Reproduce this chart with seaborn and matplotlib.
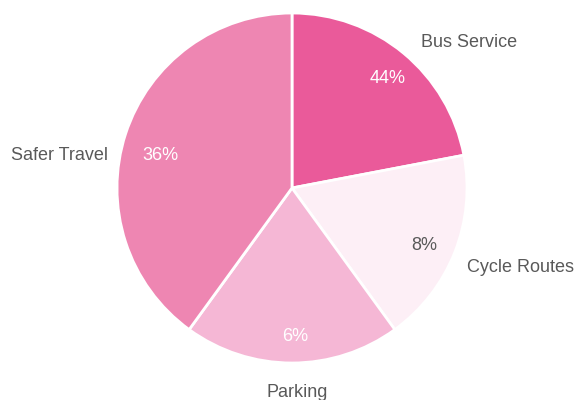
import matplotlib
matplotlib.use("Agg")
import matplotlib.pyplot as plt
import seaborn as sns

categories = ["Bus Service", "Cycle Routes", "Parking", "Safer Travel"]
values = [22, 18, 20, 40]
pct_labels = ["44%", "8%", "6%", "36%"]
colors = ["#EA5A9A", "#FDEFF6", "#F5B7D5", "#EE86B2"]
pct_colors = ["white", "#595959", "white", "white"]

sns.set_theme(style="white")
plt.rcParams["font.family"] = ["Liberation Sans", "DejaVu Sans"]

fig = plt.figure(figsize=(5.77, 4.0), dpi=100)
ax = fig.add_axes([(292 - 175) / 577, (400 - 188 - 175) / 400, 350 / 577, 350 / 400])

wedges, _ = ax.pie(values, colors=colors, startangle=90, counterclock=False,
                   wedgeprops=dict(edgecolor="white", linewidth=2))
ax.set_xlim(-1, 1)
ax.set_ylim(-1, 1)
ax.set_aspect("equal")

# outer category labels and inner percent labels
cat_pos = [(1.011, 0.834), (1.303, -0.457), (0.029, -1.166), (-1.326, 0.183)]
pct_pos = [(0.549, 0.623), (0.754, -0.326), (0.017, -0.851), (-0.754, 0.183)]
for name, pos in zip(categories, cat_pos):
    ax.text(pos[0], pos[1], name, ha="center", va="center", fontsize=13,
            color="#595959", clip_on=False)
for lab, pos, c in zip(pct_labels, pct_pos, pct_colors):
    ax.text(pos[0], pos[1], lab, ha="center", va="center", fontsize=13, color=c)

fig.savefig("out.png", dpi=100)
